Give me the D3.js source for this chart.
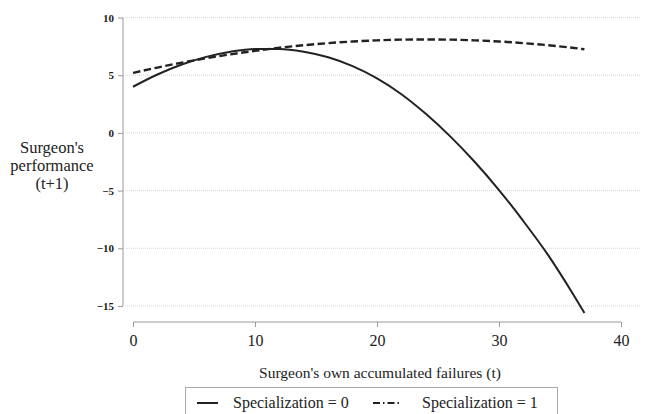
<!DOCTYPE html>
<html lang="en">
<head>
  <meta charset="UTF-8">
  <title>surgeon performance</title>
  <script src="https://d3js.org/d3.v7.min.js"></script>
  <style>
    body { margin: 0; background: #fff; }
    text { font-family: "Liberation Serif", "DejaVu Serif", serif; fill: #222; }
  </style>
</head>
<body>
<svg width="648" height="414"></svg>
<script>
  // data
  var failures = [0, 2, 4, 6, 8, 10, 12, 14, 16, 18, 20, 22, 24, 26, 28, 30, 32, 34, 36, 37];
  var spec0 = [4.0, 5.06, 5.93, 6.59, 7.04, 7.27, 7.27, 7.03, 6.55, 5.78, 4.72, 3.35, 1.65, -0.3, -2.5, -4.95, -7.65, -10.55, -13.85, -15.6];
  var spec1 = [5.2, 5.66, 6.09, 6.47, 6.81, 7.11, 7.38, 7.6, 7.78, 7.92, 8.02, 8.08, 8.1, 8.08, 8.02, 7.92, 7.78, 7.6, 7.38, 7.25];
  var xTicks = [0, 10, 20, 30, 40];
  var yTicks = [10, 5, 0, -5, -10, -15];
  var legendLabels = ["Specialization = 0", "Specialization = 1"];

  var svg = d3.select('svg');

  // scales
  var x = d3.scaleLinear().domain([0, 40]).range([133, 621]);
  var y = d3.scaleLinear().domain([-15, 10]).range([306, 17.5]);

  var plotLeft = 123, plotRight = 640;

  // grid lines
  svg.append('g').selectAll('line')
    .data(yTicks).enter().append('line')
    .attr('x1', plotLeft + 2).attr('x2', plotRight)
    .attr('y1', function (d) { return y(d); })
    .attr('y2', function (d) { return y(d); })
    .attr('stroke', '#d6d6d6')
    .attr('stroke-width', 1)
    .attr('stroke-dasharray', '1,1');

  // y axis
  var yAxis = svg.append('g').attr('transform', 'translate(' + plotLeft + ',0)')
    .call(d3.axisLeft(y).tickValues(yTicks).tickSize(5).tickPadding(4).tickFormat(d3.format('d')));
  yAxis.select('.domain').attr('stroke', '#9a9a9a').attr('d', 'M0,' + y(10) + 'V' + y(-15));
  yAxis.selectAll('.tick line').attr('stroke', '#9a9a9a');
  yAxis.selectAll('.tick text')
    .style('font-family', '"Liberation Serif", serif')
    .style('font-size', '11px')
    .style('font-weight', 'bold')
    .attr('fill', '#333');

  // x axis
  var xAxis = svg.append('g').attr('transform', 'translate(0,322)')
    .call(d3.axisBottom(x).tickValues(xTicks).tickSize(5).tickPadding(8));
  xAxis.select('.domain').attr('stroke', '#9a9a9a').attr('d', 'M' + x(0) + ',0H' + x(40));
  xAxis.selectAll('.tick line').attr('stroke', '#9a9a9a');
  xAxis.selectAll('.tick text')
    .style('font-family', '"Liberation Serif", serif')
    .style('font-size', '16px')
    .attr('fill', '#222');

  // axis titles
  var yTitle = svg.append('text')
    .attr('text-anchor', 'middle')
    .style('font-size', '16.5px');
  ["Surgeon's", "performance", "(t+1)"].forEach(function (t, i) {
    yTitle.append('tspan').attr('x', 52).attr('y', 153 + i * 18).text(t);
  });

  svg.append('text')
    .attr('x', 380).attr('y', 378)
    .attr('text-anchor', 'middle')
    .style('font-size', '15.5px')
    .text("Surgeon's own accumulated failures (t)");

  // curves
  var line0 = d3.line()
    .x(function (d, i) { return x(failures[i]); })
    .y(function (d) { return y(d); })
    .curve(d3.curveMonotoneX);

  svg.append('path')
    .datum(spec1)
    .attr('d', line0)
    .attr('fill', 'none')
    .attr('stroke', '#222')
    .attr('stroke-width', 2.4)
    .attr('stroke-dasharray', '7.5,3.5');

  svg.append('path')
    .datum(spec0)
    .attr('d', line0)
    .attr('fill', 'none')
    .attr('stroke', '#222')
    .attr('stroke-width', 2);

  // legend
  svg.append('rect')
    .attr('x', 185.5).attr('y', 387.5)
    .attr('width', 372).attr('height', 40)
    .attr('fill', '#fff')
    .attr('stroke', '#aaa');

  var legendItems = [
    { x1: 197, x2: 218, tx: 233, dash: null },
    { x1: 373, x2: 400, tx: 422, dash: '7,3,1.5,3' }
  ];
  legendItems.forEach(function (it, i) {
    svg.append('line')
      .attr('x1', it.x1).attr('x2', it.x2)
      .attr('y1', 403).attr('y2', 403)
      .attr('stroke', '#222')
      .attr('stroke-width', 2)
      .attr('stroke-dasharray', it.dash);
    svg.append('text')
      .attr('x', it.tx).attr('y', 408)
      .style('font-size', '16px')
      .text(legendLabels[i]);
  });
</script>
</body>
</html>
